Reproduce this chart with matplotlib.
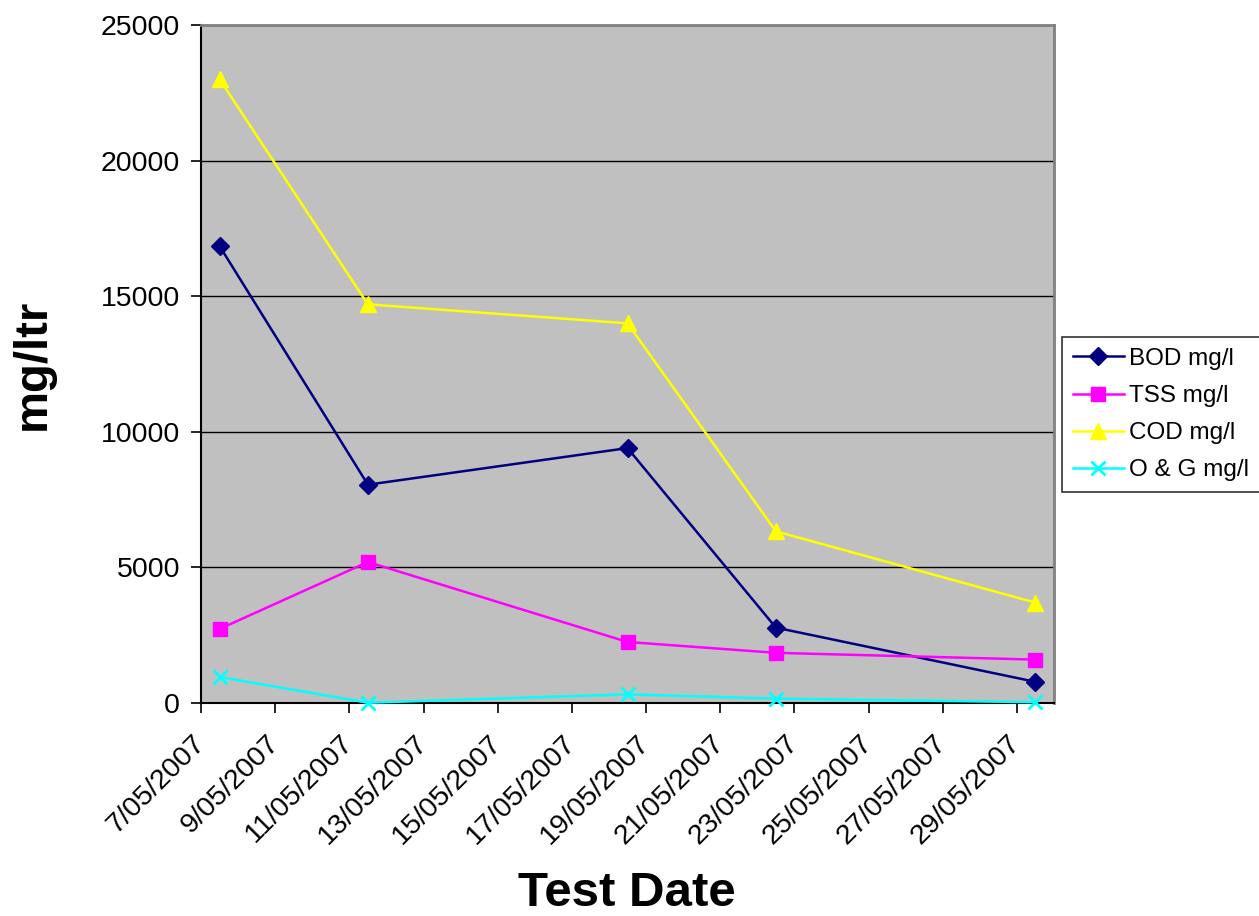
import datetime as dt
import matplotlib
matplotlib.use("Agg")
import matplotlib.pyplot as plt
import matplotlib.dates as mdates
from matplotlib.ticker import FuncFormatter, MultipleLocator

plt.rcParams['font.family'] = ['Liberation Sans', 'DejaVu Sans']

# ---- data ----
test_dates = ["2007-05-07", "2007-05-11", "2007-05-18", "2007-05-22", "2007-05-29"]
bod = [16850, 8050, 9400, 2780, 780]
tss = [2730, 5200, 2250, 1850, 1600]
cod = [23000, 14700, 14000, 6330, 3700]
og = [960, 10, 320, 160, 30]
series_names = ["BOD mg/l", "TSS mg/l", "COD mg/l", "O & G mg/l"]
x_start, x_end = "2007-05-07", "2007-05-30"

# Excel date axis places each point in the middle of its day
xd = [mdates.date2num(dt.datetime.fromisoformat(d)) + 0.5 for d in test_dates]
x0 = mdates.date2num(dt.datetime.fromisoformat(x_start))
x1 = mdates.date2num(dt.datetime.fromisoformat(x_end))

fig = plt.figure(figsize=(12.59, 9.16), dpi=100)
ax = fig.add_axes([201/1259, 1-703/916, (1054-201)/1259, (703-25)/916])
ax.set_facecolor('#C0C0C0')

styles = [
    dict(color='#000080', marker='D', markersize=9),
    dict(color='#FF00FF', marker='s', markersize=10),
    dict(color='#FFFF00', marker='^', markersize=11.5),
    dict(color='#00FFFF', marker='x', markersize=10, markeredgewidth=2),
]
for vals, name, st in zip([bod, tss, cod, og], series_names, styles):
    ax.plot(xd, vals, label=name, linewidth=1.8, clip_on=False, zorder=3, **st)

ax.set_xlim(x0, x1)
ax.set_ylim(0, 25000)
ax.yaxis.set_major_locator(MultipleLocator(5000))
ax.set_xticks([x0 + 2*i for i in range(12)])

def fmt_date(v, pos):
    d = mdates.num2date(v)
    return f"{d.day}/{d.month:02d}/{d.year}"
ax.xaxis.set_major_formatter(FuncFormatter(fmt_date))

ax.grid(axis='y', color='black', linewidth=1)
ax.set_axisbelow(True)
ax.tick_params(axis='both', direction='out', length=7, width=1.2, color='black',
               labelsize=20.5, pad=8)
ax.tick_params(axis='x', pad=19)
for lab in ax.get_xticklabels():
    lab.set_rotation(45)
    lab.set_ha('right')
    lab.set_va('center')
    lab.set_rotation_mode('anchor')

for s in ['left', 'bottom']:
    ax.spines[s].set_color('black')
    ax.spines[s].set_linewidth(1.5)
for s in ['top', 'right']:
    ax.spines[s].set_color('#808080')
    ax.spines[s].set_linewidth(2)

fig.text(627/1259, 1-894/916, "Test Date", ha='center', va='center',
         fontsize=35.5, fontweight='bold')
fig.text(33/1259, 1-364/916, "mg/ltr", ha='center', va='center', rotation=90,
         fontsize=34, fontweight='bold')

leg = fig.legend(loc='upper left', bbox_to_anchor=(1062/1259, 1-337/916),
                 fontsize=17.5, frameon=True, fancybox=False, handlelength=2.1,
                 borderpad=0.45, labelspacing=0.62, handletextpad=0.2,
                 borderaxespad=0)
leg.get_frame().set_edgecolor('black')
leg.get_frame().set_linewidth(1.2)

fig.savefig("out.png", dpi=100, facecolor='white')
